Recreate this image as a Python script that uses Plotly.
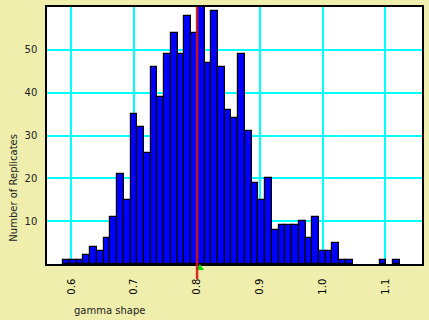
import plotly.graph_objects as go

# Histogram of gamma shape replicates
bin_start = 0.5873
bin_width = 0.01071
counts = [1, 1, 1, 2, 4, 3, 6, 11, 21, 15,
          35, 32, 26, 46, 39, 49, 54, 49, 58, 54,
          60, 47, 59, 46, 36, 34, 49, 31, 19, 15,
          20, 8, 9, 9, 9, 10, 6, 11, 3, 3,
          5, 1, 1, 0, 0, 0, 0, 1, 0, 1]
observed_value = 0.8003
mean_value = 0.8048
x_ticks = [0.6, 0.7, 0.8, 0.9, 1.0, 1.1]
x_tick_text = ["0.6", "0.7", "0.8", "0.9", "1.0", "1.1"]
y_ticks = [10, 20, 30, 40, 50]

centers = [bin_start + (i + 0.5) * bin_width for i in range(len(counts))]
nonzero = [(c, n) for c, n in zip(centers, counts) if n > 0]

fig = go.Figure()
fig.add_trace(go.Bar(
    x=[c for c, _ in nonzero], y=[n for _, n in nonzero],
    width=[bin_width] * len(nonzero),
    marker=dict(color="#0000FF", line=dict(color="black", width=1.2)),
    showlegend=False, hoverinfo="skip",
))

tri_half = 0.0066
fig.add_shape(type="path",
              path=f"M {mean_value - tri_half} -0.023 L {mean_value + tri_half} -0.023 L {mean_value} 0 Z",
              xref="x", yref="paper", fillcolor="#00DD00", line=dict(width=0), layer="above")
fig.add_shape(type="line", x0=observed_value, x1=observed_value, y0=-0.058, y1=1,
              xref="x", yref="paper", line=dict(color="rgba(220,20,20,0.9)", width=2.5), layer="above")

fig.update_layout(
    width=429, height=320,
    margin=dict(l=47, r=6, t=5, b=56),
    paper_bgcolor="#EFEEAC", plot_bgcolor="white",
    font=dict(family="DejaVu Sans", size=10, color="#222"),
    bargap=0,
)
fig.add_annotation(text="gamma shape", x=(110 - 47) / 376, y=-(311 - 264) / 259,
                   xref="paper", yref="paper", showarrow=False,
                   font=dict(size=10, color="#222"), xanchor="center", yanchor="middle")
fig.add_annotation(text="Number of Replicates", x=-(47 - 14) / 376, y=(264 - 187) / 259,
                   xref="paper", yref="paper", showarrow=False, textangle=-90,
                   font=dict(size=10, color="#222"), xanchor="center", yanchor="middle")

fig.update_xaxes(range=[0.5614, 1.1583], tickvals=x_ticks, ticktext=x_tick_text,
                 tickangle=-90, showgrid=True, gridcolor="#00FFFF", gridwidth=1.5,
                 showline=True, linecolor="black", linewidth=1.5, mirror=True,
                 zeroline=False, ticks="", ticklabelstandoff=9,
                 tickfont=dict(size=10, color="black"))
fig.update_yaxes(range=[0, 60], tickvals=y_ticks, showgrid=True, gridcolor="#00FFFF",
                 gridwidth=1.5, showline=True, linecolor="black", linewidth=1.5,
                 mirror=True, zeroline=False, ticks="", ticklabelstandoff=6,
                 tickfont=dict(size=10, color="#222"))

fig.write_html("out.html")
